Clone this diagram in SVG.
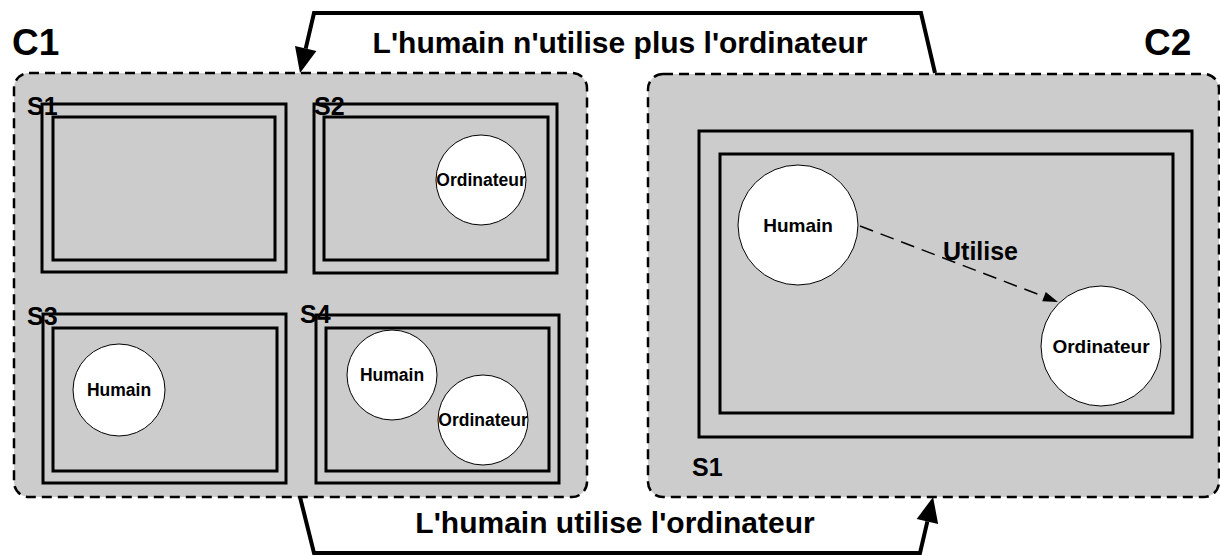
<svg xmlns="http://www.w3.org/2000/svg" width="1220" height="556" viewBox="0 0 1220 556">
<style>
text{font-family:"Liberation Sans",Arial,sans-serif;font-weight:bold;fill:#000}
.cont{fill:#cccccc;stroke:#000;stroke-width:2.5;stroke-dasharray:10 6}
.box{fill:none;stroke:#000;stroke-width:3}
.ent{fill:#fff;stroke:#000;stroke-width:1}
.big{font-size:37px}
.trans{font-size:30px;text-anchor:middle}
.sl{font-size:25px}
.e1{font-size:17.5px;text-anchor:middle}
.e2{font-size:19px;text-anchor:middle}
.conn{fill:none;stroke:#000;stroke-width:4;stroke-linejoin:miter}
.rel{fill:none;stroke:#000;stroke-width:1.5;stroke-dasharray:14 8}
</style>
<defs>
<marker id="ah" markerUnits="userSpaceOnUse" markerWidth="26" markerHeight="24" refX="0" refY="11" orient="auto" overflow="visible">
<path d="M0,0 L25,11 L0,22 z" fill="#000"/>
</marker>
<marker id="ahs" markerUnits="userSpaceOnUse" markerWidth="16" markerHeight="12" refX="0" refY="5" orient="auto" overflow="visible">
<path d="M0,0 L15,5 L0,10 z" fill="#000"/>
</marker>
</defs>
<g id="C1">
<rect class="cont" x="14" y="73" width="573" height="424" rx="15"/>
<text class="big" x="12" y="55">C1</text>
</g>
<g id="C2">
<rect class="cont" x="648" y="74" width="571" height="423" rx="15"/>
<text class="big" x="1144" y="55">C2</text>
</g>
<g id="C1-S1">
<rect class="box" x="42" y="104" width="244" height="168"/>
<rect class="box" x="53" y="117" width="222" height="143"/>
<text class="sl" x="27" y="115">S1</text>
</g>
<g id="C1-S2">
<rect class="box" x="314" y="104" width="243" height="169"/>
<rect class="box" x="324" y="117" width="224" height="143"/>
<text class="sl" x="314" y="115">S2</text>
<circle class="ent" cx="481" cy="180" r="45"/>
<text class="e1" x="481" y="186">Ordinateur</text>
</g>
<g id="C1-S3">
<rect class="box" x="43" y="314" width="243" height="169"/>
<rect class="box" x="53" y="328" width="224" height="143"/>
<text class="sl" x="27" y="325">S3</text>
<circle class="ent" cx="119" cy="390" r="46"/>
<text class="e1" x="119" y="396">Humain</text>
</g>
<g id="C1-S4">
<rect class="box" x="316" y="315" width="243" height="168"/>
<rect class="box" x="326" y="328" width="223" height="143"/>
<text class="sl" x="300" y="323">S4</text>
<circle class="ent" cx="392" cy="375" r="45"/>
<text class="e1" x="392" y="381">Humain</text>
<circle class="ent" cx="483" cy="420" r="45"/>
<text class="e1" x="483" y="426">Ordinateur</text>
</g>
<g id="C2-S1">
<rect class="box" x="699" y="131" width="493" height="306"/>
<rect class="box" x="720" y="154" width="453" height="259"/>
<text class="sl" x="692" y="476">S1</text>
<circle class="ent" cx="798" cy="225" r="60"/>
<text class="e2" x="798" y="232">Humain</text>
<circle class="ent" cx="1101" cy="346" r="60"/>
<text class="e2" x="1101" y="353">Ordinateur</text>
</g>
<g id="connectors">
<path class="conn" d="M935,73 L921,13 L314,13 L305.7,48.6" marker-end="url(#ah)"/>
<text class="trans" x="620" y="53">L'humain n'utilise plus l'ordinateur</text>
<path class="conn" d="M300,497 L314,553 L920,553 L927.4,521.4" marker-end="url(#ah)"/>
<text class="trans" x="615" y="533">L'humain utilise l'ordinateur</text>
<path class="rel" d="M860,226 L1044,296.6" marker-end="url(#ahs)"/>
<text style="font-size:25px" x="943" y="260">Utilise</text>
</g>
</svg>
